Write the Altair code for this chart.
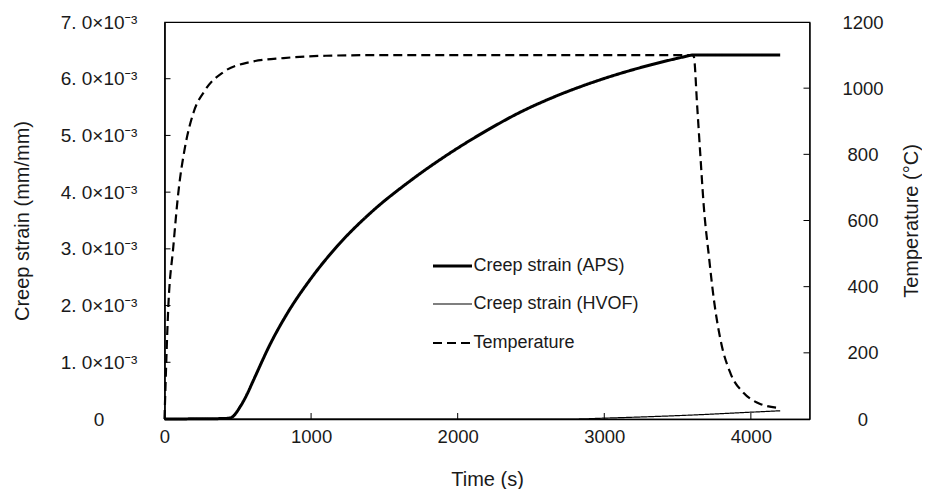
import altair as alt
import pandas as pd

# ---------------- data ----------------
aps_time = [0, 200, 400, 450, 517, 560, 608, 723, 837, 997, 1179, 1408, 1682,
            1978, 2207, 2435, 2640, 2983, 3325, 3590, 3600, 4200]
aps_strain = [0.0, 0.000003, 0.000008, 0.00002, 0.00022, 0.00042, 0.00069,
              0.00133, 0.00186, 0.00247, 0.00305, 0.00364, 0.00421, 0.00474,
              0.00510, 0.00542, 0.00566, 0.00599, 0.00625, 0.006414, 0.00642,
              0.00642]

hvof_time = [0, 2800, 3000, 3300, 3600, 4000, 4200]
hvof_strain = [0.0, 0.0, 0.000015, 0.00004, 0.00007, 0.00012, 0.000145]

temp_time = [0, 26, 60, 94, 140, 197, 277, 403, 586, 813, 1100, 1500, 3600,
             3611, 3634, 3656, 3679, 3714, 3748, 3793, 3861, 3953, 4056, 4200]
temp_value = [0, 339, 520, 683, 822, 925, 994, 1049, 1079, 1091, 1098, 1100,
              1100, 1095, 944, 793, 642, 491, 360, 239, 138, 78, 47, 33]

series_names = ["Creep strain (APS)", "Creep strain (HVOF)", "Temperature"]

x_ticks = [0, 1000, 2000, 3000, 4000]
strain_ticks = [0.0, 0.001, 0.002, 0.003, 0.004, 0.005, 0.006, 0.007]
strain_labels = ["0", "1. 0×10⁻³", "2. 0×10⁻³", "3. 0×10⁻³", "4. 0×10⁻³",
                 "5. 0×10⁻³", "6. 0×10⁻³", "7. 0×10⁻³"]
temp_ticks = [0, 200, 400, 600, 800, 1000, 1200]

# ---------------- tables ----------------
strain_df = pd.concat([
    pd.DataFrame({"time": aps_time, "strain": aps_strain, "series": series_names[0]}),
    pd.DataFrame({"time": hvof_time, "strain": hvof_strain, "series": series_names[1]}),
])
temp_df = pd.DataFrame({"time": temp_time, "temp": temp_value, "series": series_names[2]})

xtick_df = pd.DataFrame({"time": x_ticks[1:]})
stick_df = pd.DataFrame({"strain": strain_ticks[1:-1]})
ttick_df = pd.DataFrame({"temp": temp_ticks[1:-1]})

W, H = 645, 397
FONT = "Liberation Sans, Noto Sans, DejaVu Sans"
TXT = "#1a1a1a"

x_scale = alt.Scale(domain=[0, 4400], nice=False, zero=False)
x_axis = alt.Axis(values=x_ticks, format="d", ticks=False, tickSize=0, labelPadding=8,
                  labelFontSize=18.5, labelFont=FONT, labelColor=TXT,
                  title="Time (s)", titleFontSize=20, titleFont=FONT,
                  titleFontWeight="normal", titleColor=TXT,
                  titleX=W / 2, titleY=60, titleBaseline="middle",
                  domainColor="black", domainWidth=1.5, grid=False,
                  labelFlush=False)

vals_js = "[" + ",".join(repr(v) for v in strain_ticks) + "]"
labs_js = "[" + ",".join("'" + s + "'" for s in strain_labels) + "]"
strain_scale = alt.Scale(domain=[0, 0.007], nice=False)
strain_axis = alt.Axis(values=strain_ticks, ticks=False, tickSize=0,
                       labelExpr=f"{labs_js}[indexof({vals_js}, datum.value)]",
                       labelAlign="center", labelPadding=66, labelFlush=False,
                       labelFontSize=19, labelFont=FONT, labelColor=TXT,
                       title="Creep strain (mm/mm)", titleFontSize=20,
                       titleFont=FONT, titleFontWeight="normal", titleColor=TXT,
                       titleX=-142, titleY=H / 2, titleAngle=270,
                       titleAlign="center", titleBaseline="middle",
                       domainColor="black", domainWidth=1.5, grid=False)

temp_scale = alt.Scale(domain=[0, 1200], nice=False)
temp_axis = alt.Axis(values=temp_ticks, format="d", ticks=False, tickSize=0,
                     labelAlign="center", labelPadding=53, labelFlush=False,
                     labelFontSize=18.5, labelFont=FONT, labelColor=TXT,
                     title="Temperature (°C)", titleFontSize=20, titleFont=FONT,
                     titleFontWeight="normal", titleColor=TXT,
                     titleX=102, titleY=H / 2, titleAngle=270,
                     titleAlign="center", titleBaseline="middle",
                     domainColor="black", domainWidth=1.2, grid=False,
                     orient="right")

dash_scale = alt.Scale(domain=series_names, range=[[1, 0], [1, 0], [9, 5]])
width_scale = alt.Scale(type="ordinal", domain=series_names, range=[3, 1.2, 2.2])
legend = alt.Legend(title=None, orient="none", legendX=267, legendY=223,
                    symbolType="stroke", symbolSize=1521, symbolStrokeColor="black",
                    labelFontSize=18, labelFont=FONT, labelColor=TXT,
                    labelOffset=0, rowPadding=8.5, padding=0, labelLimit=400)

X = alt.X("time:Q", scale=x_scale, axis=x_axis)

strain_lines = alt.Chart(strain_df).mark_line(color="black", interpolate="monotone").encode(
    x=X,
    y=alt.Y("strain:Q", scale=strain_scale, axis=strain_axis),
    strokeDash=alt.StrokeDash("series:N", scale=dash_scale, legend=legend),
    strokeWidth=alt.StrokeWidth("series:N", scale=width_scale, legend=legend),
    detail="series:N",
)

temp_lines = alt.Chart(temp_df).mark_line(color="black", interpolate="monotone").encode(
    x=X,
    y=alt.Y("temp:Q", scale=temp_scale, axis=temp_axis),
    strokeDash=alt.StrokeDash("series:N", scale=dash_scale, legend=legend),
    strokeWidth=alt.StrokeWidth("series:N", scale=width_scale, legend=legend),
)

xticks = alt.Chart(xtick_df).mark_rule(color="black", strokeWidth=1).encode(
    x=X, y=alt.value(H), y2=alt.value(H - 6))

sticks = alt.Chart(stick_df).mark_rule(color="black", strokeWidth=1).encode(
    y=alt.Y("strain:Q", scale=strain_scale, axis=strain_axis),
    x=alt.value(0), x2=alt.value(6))

tticks = alt.Chart(ttick_df).mark_rule(color="black", strokeWidth=1).encode(
    y=alt.Y("temp:Q", scale=temp_scale, axis=temp_axis),
    x=alt.value(W), x2=alt.value(W - 6))

left = alt.layer(strain_lines, sticks, xticks)
right = alt.layer(temp_lines, tticks)

chart = alt.layer(left, right).resolve_scale(y="independent").properties(
    width=W, height=H,
    autosize=alt.AutoSizeParams(type="none"),
    padding={"left": 156.5, "top": 14, "right": 112, "bottom": 70},
    background="white",
).configure_view(stroke="black", strokeWidth=1.2)

chart.save("out.html", embed_options={"renderer": "svg", "actions": False})
